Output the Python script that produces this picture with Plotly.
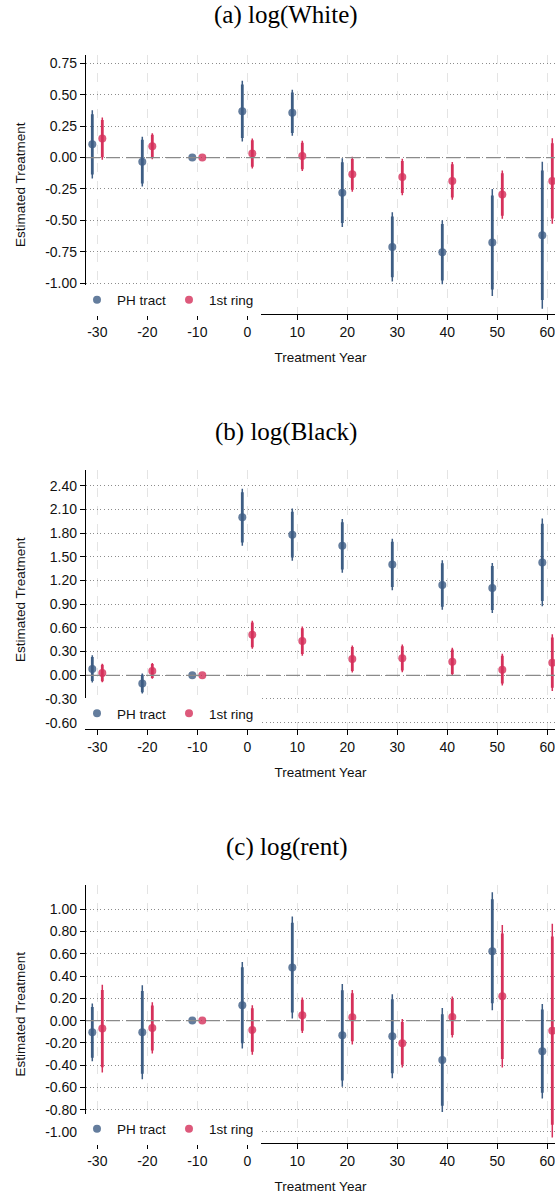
import plotly.graph_objects as go

# Event-study estimates by treatment year (decades relative to treatment)
years = [-30, -20, -10, 0, 10, 20, 30, 40, 50, 60]

# (a) log(White): point estimates and 95% CI half-widths
white_ph = [0.105, -0.033, 0.0, 0.369, 0.356, -0.279, -0.711, -0.753, -0.676, -0.618]
white_ph_ci = [0.272, 0.198, 0.0, 0.242, 0.183, 0.274, 0.275, 0.255, 0.425, 0.585]
white_ring = [0.151, 0.090, 0.0, 0.032, 0.013, -0.133, -0.154, -0.186, -0.294, -0.186]
white_ring_ci = [0.168, 0.103, 0.0, 0.120, 0.120, 0.139, 0.145, 0.150, 0.192, 0.340]

# (b) log(Black)
black_ph = [0.080, -0.105, 0.0, 2.000, 1.780, 1.639, 1.403, 1.143, 1.105, 1.429]
black_ph_ci = [0.172, 0.126, 0.0, 0.361, 0.330, 0.340, 0.325, 0.313, 0.317, 0.556]
black_ring = [0.029, 0.055, 0.0, 0.513, 0.433, 0.206, 0.214, 0.172, 0.071, 0.160]
black_ring_ci = [0.118, 0.100, 0.0, 0.178, 0.185, 0.172, 0.175, 0.176, 0.200, 0.360]

# (c) log(rent)
rent_ph = [-0.105, -0.105, 0.0, 0.138, 0.476, -0.132, -0.141, -0.353, 0.623, -0.275]
rent_ph_ci = [0.259, 0.422, 0.0, 0.388, 0.458, 0.461, 0.377, 0.467, 0.530, 0.425]
rent_ring = [-0.072, -0.066, 0.0, -0.084, 0.048, 0.030, -0.204, 0.033, 0.219, -0.090]
rent_ring_ci = [0.394, 0.230, 0.0, 0.222, 0.159, 0.245, 0.218, 0.184, 0.640, 0.960]

panel_titles = ["(a) log(White)", "(b) log(Black)", "(c) log(rent)"]
series_names = ["PH tract", "1st ring"]
y_ticks = [
    [-1.00, -0.75, -0.50, -0.25, 0.00, 0.25, 0.50, 0.75],
    [-0.60, -0.30, 0.00, 0.30, 0.60, 0.90, 1.20, 1.50, 1.80, 2.10, 2.40],
    [-1.00, -0.80, -0.60, -0.40, -0.20, 0.00, 0.20, 0.40, 0.60, 0.80, 1.00],
]

panels = [
    (white_ph, white_ph_ci, white_ring, white_ring_ci),
    (black_ph, black_ph_ci, black_ring, black_ring_ci),
    (rent_ph, rent_ph_ci, rent_ring, rent_ring_ci),
]

# Layout geometry (pixels)
W, H = 555, 1194
PLOT_LEFT = 86
X_RANGE = [-32.26, 61.54]
y_ranges = [[-1.247, 0.816], [-0.684, 2.599], [-1.102, 1.218]]
plot_top = [55, 470, 885]
plot_bottom = [314.3, 729.3, 1143.3]
title_y = [15, 432, 847]
legend_y = [300, 713.5, 1129]

BLUE = "#3d5d84"
RED = "#d5305a"
INNER_FRAC = 0.88   # thick band relative to the 95% interval
OFFSET = 1.0        # horizontal dodge between the two series

SANS = "Liberation Sans, Arial, Helvetica, sans-serif"
SERIF = "Liberation Serif, Times New Roman, serif"

fig = go.Figure()


def py(ypx):
    return 1 - ypx / H


for i, (ph, ph_ci, ring, ring_ci) in enumerate(panels):
    k = "" if i == 0 else str(i + 1)
    xa, ya = "x" + k, "y" + k
    leg = "legend" + k
    for name, est, ci, color, dx in [
        (series_names[0], ph, ph_ci, BLUE, -OFFSET),
        (series_names[1], ring, ring_ci, RED, OFFSET),
    ]:
        xs = [yr + dx for yr in years]
        # thin 95% interval
        fig.add_trace(go.Scatter(
            x=xs, y=est, xaxis=xa, yaxis=ya, mode="markers",
            marker=dict(size=1, opacity=0), showlegend=False, hoverinfo="skip",
            error_y=dict(type="data", array=ci, symmetric=True, color=color,
                         thickness=1.5, width=0),
        ))
        # thick inner interval
        fig.add_trace(go.Scatter(
            x=xs, y=est, xaxis=xa, yaxis=ya, mode="markers",
            marker=dict(size=1, opacity=0), showlegend=False, hoverinfo="skip",
            error_y=dict(type="data", array=[c * INNER_FRAC for c in ci],
                         symmetric=True, color=color, thickness=2.8, width=0),
        ))
        # point estimates
        fig.add_trace(go.Scatter(
            x=xs, y=est, xaxis=xa, yaxis=ya, mode="markers", name=name,
            legend=leg,
            marker=dict(size=8, color=color, opacity=0.8, line=dict(width=0)),
        ))

    y0, y1 = py(plot_bottom[i]), py(plot_top[i])
    fig.layout["xaxis" + k] = dict(
        domain=[PLOT_LEFT / W, 1.0], anchor=ya, range=X_RANGE,
        tickmode="array", tickvals=years, ticktext=[str(v) for v in years],
        ticks="outside", ticklen=5, tickcolor="#000", tickwidth=1,
        ticklabeloverflow="allow",
        showline=True, linecolor="#000", linewidth=1.3,
        showgrid=True, gridcolor="#e4e4e4", griddash="dash", gridwidth=1,
        zeroline=False, tickfont=dict(family=SANS, size=14, color="#111"),
        title=dict(text="Treatment Year", standoff=13,
                   font=dict(family=SANS, size=13.5, color="#111")),
        automargin=False, fixedrange=True,
    )
    fig.layout["yaxis" + k] = dict(
        domain=[y0, y1], anchor=xa, range=y_ranges[i],
        tickmode="array", tickvals=y_ticks[i],
        ticktext=[f"{v:.2f}" for v in y_ticks[i]],
        ticks="outside", ticklen=5, tickcolor="#000", tickwidth=1,
        ticklabeloverflow="allow",
        showline=True, linecolor="#000", linewidth=1.3,
        showgrid=True, gridcolor="#8c8c8c", griddash="1px,2.6px", gridwidth=1,
        zeroline=False, tickfont=dict(family=SANS, size=14, color="#111"),
        title=dict(text="Estimated Treatment", standoff=16,
                   font=dict(family=SANS, size=13.5, color="#111")),
        automargin=False, fixedrange=True,
    )
    # reference line at zero
    fig.add_shape(type="line", xref=xa + " domain", yref=ya,
                  x0=0, x1=1, y0=0, y1=0,
                  line=dict(color="#8a8a8a", width=1.2, dash="14px,6px"))
    # panel title
    fig.add_annotation(text=panel_titles[i], xref="paper", yref="paper",
                       x=286 / W, y=py(title_y[i]), xanchor="center",
                       yanchor="middle", showarrow=False,
                       font=dict(family=SERIF, size=25, color="#000"))
    fig.layout[leg] = dict(
        orientation="h", x=(77) / W, y=py(legend_y[i]), xanchor="left",
        yanchor="middle", bgcolor="#ffffff", borderwidth=0,
        font=dict(family=SANS, size=13.5, color="#111"),
        entrywidth=47, entrywidthmode="pixels",
        itemclick=False, itemdoubleclick=False,
    )

fig.update_layout(
    width=W, height=H, margin=dict(l=0, r=0, t=0, b=0),
    paper_bgcolor="#ffffff", plot_bgcolor="#ffffff",
    showlegend=True,
)

fig.write_html("out.html", config={"displayModeBar": False})
